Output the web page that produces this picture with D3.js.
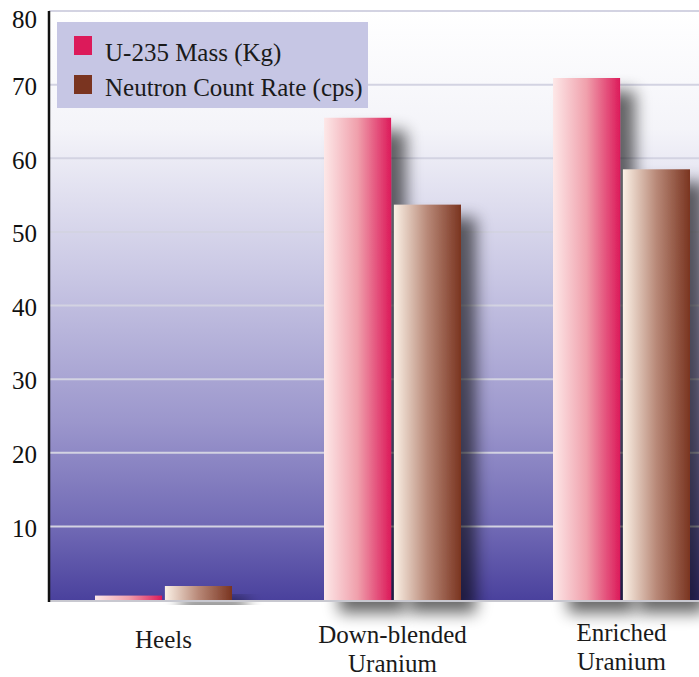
<!DOCTYPE html>
<html><head><meta charset="utf-8">
<script src="https://cdn.jsdelivr.net/npm/d3@7/dist/d3.min.js"></script>
<style>html,body{margin:0;padding:0;background:#fff;overflow:hidden}</style>
</head><body>
<svg id="c" width="699" height="677"></svg>
<script>
const categories = [["Heels"], ["Down-blended", "Uranium"], ["Enriched", "Uranium"]];
const seriesNames = ["U-235 Mass (Kg)", "Neutron Count Rate (cps)"];
const massValues = [0.6, 65.5, 70.9];
const neutronValues = [1.9, 53.7, 58.5];
const yTicks = [10, 20, 30, 40, 50, 60, 70, 80];

(function () {
const svg = d3.select("#c");
const W = 699, H = 677;
const pLeft = 49, pRight = 736, pTop = 11, pBottom = 600;
const font = "'Liberation Serif', 'Times New Roman', serif";

const x = d3.scaleBand().domain(d3.range(categories.length)).range([pLeft, pRight]).paddingInner(0).paddingOuter(0);
const y = d3.scaleLinear().domain([0, 80]).range([pBottom, pTop]);
const xs = d3.scaleBand().domain([0, 1]).range([0, 137]).paddingInner(0.04);

const defs = svg.append("defs");
const bg = defs.append("linearGradient").attr("id", "bg").attr("x1", 0).attr("y1", 0).attr("x2", 0).attr("y2", 1);
[[0, "#ffffff"], [0.2, "#f4f4f9"], [0.45, "#c9c7e4"], [0.7, "#9b96cc"], [0.88, "#6f68b4"], [1, "#4a419d"]]
  .forEach(([o, c]) => bg.append("stop").attr("offset", o).attr("stop-color", c));
const grads = [["#fde8e8", "#f0a0ac", "#dc1a5a"], ["#fbf1e6", "#b88877", "#7a3420"]];
grads.forEach((g, i) => {
  const lg = defs.append("linearGradient").attr("id", "bar" + i).attr("x1", 0).attr("y1", 0).attr("x2", 1).attr("y2", 0);
  lg.append("stop").attr("offset", 0).attr("stop-color", g[0]);
  lg.append("stop").attr("offset", 0.5).attr("stop-color", g[1]);
  lg.append("stop").attr("offset", 1).attr("stop-color", g[2]);
});
const f = defs.append("filter").attr("id", "sh").attr("x", "-30%").attr("y", "-30%").attr("width", "180%").attr("height", "160%");
f.append("feGaussianBlur").attr("in", "SourceAlpha").attr("stdDeviation", 8).attr("result", "b");
f.append("feOffset").attr("in", "b").attr("dx", 15).attr("dy", 13).attr("result", "o");
f.append("feComponentTransfer").attr("in", "o").attr("result", "o2")
  .append("feFuncA").attr("type", "linear").attr("slope", 0.6);
const m = f.append("feMerge");
m.append("feMergeNode").attr("in", "o2");
m.append("feMergeNode").attr("in", "SourceGraphic");

svg.append("rect").attr("x", pLeft).attr("y", pTop).attr("width", pRight - pLeft).attr("height", pBottom - pTop).attr("fill", "url(#bg)");

svg.append("g").selectAll("line").data(yTicks).join("line")
  .attr("x1", pLeft).attr("x2", W).attr("y1", d => y(d)).attr("y2", d => y(d))
  .attr("stroke", "#d3d3e2").attr("stroke-width", 2);

const series = [massValues, neutronValues];
const gb = svg.append("g");
categories.forEach((c, i) => {
  series.forEach((vals, s) => {
    const x0 = x(i) + (x.bandwidth() - 137) / 2 + xs(s);
    gb.append("rect").attr("x", x0).attr("y", y(vals[i])).attr("width", xs.bandwidth())
      .attr("height", y(0) - y(vals[i])).attr("fill", "url(#bar" + s + ")").attr("filter", "url(#sh)");
  });
});

svg.append("line").attr("x1", pLeft).attr("x2", W).attr("y1", pBottom + 1).attr("y2", pBottom + 1).attr("stroke", "#c8c8d0").attr("stroke-width", 2);
const ya = svg.append("g").attr("transform", `translate(${pLeft},0)`)
  .call(d3.axisLeft(y).tickValues(yTicks).tickSize(0).tickPadding(12));
ya.select(".domain").attr("stroke", "#111").attr("stroke-width", 2.5).attr("d", `M0,${pTop}V${pBottom + 2}`);
ya.selectAll(".tick").attr("transform", d => `translate(0,${Math.max(y(d) + 2, pTop + 9)})`);
ya.selectAll("text").attr("font-family", font).attr("font-size", 25).attr("fill", "#111").attr("dy", "0.33em");

const baseY = [648, 643, 641];
categories.forEach((c, i) => {
  const cx = x(i) + x.bandwidth() / 2;
  const t = svg.append("text").attr("text-anchor", "middle").attr("font-family", font).attr("font-size", 25).attr("fill", "#1a1a1a");
  c.forEach((line, k) => t.append("tspan").attr("x", cx).attr("y", baseY[i] + k * 29).text(line));
});

const lg = svg.append("g");
lg.append("rect").attr("x", 57).attr("y", 22).attr("width", 311).attr("height", 86).attr("fill", "#c6c6e4");
const legColors = ["#dc1a5a", "#7a3420"];
seriesNames.forEach((n, i) => {
  lg.append("rect").attr("x", 74).attr("y", 36 + i * 39).attr("width", 18).attr("height", 19).attr("fill", legColors[i]);
  lg.append("text").attr("x", 105).attr("y", 61 + i * 35).attr("font-family", font).attr("font-size", 25).attr("fill", "#1a1a1a").text(n);
});
})();
</script>
</body></html>
